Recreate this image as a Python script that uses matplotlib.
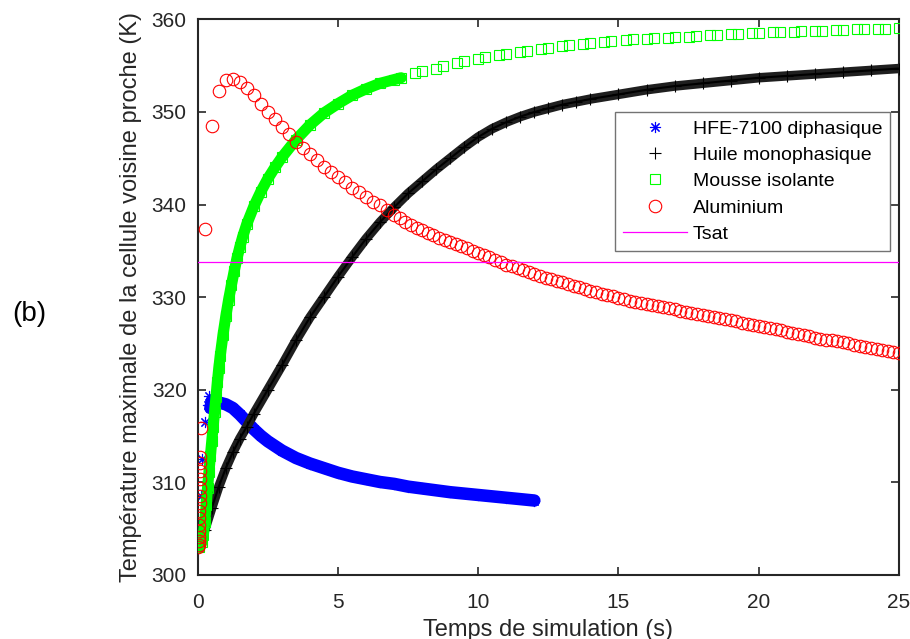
import numpy as np
import matplotlib
matplotlib.use('Agg')
import matplotlib.pyplot as plt
from matplotlib.lines import Line2D

plt.rcParams['font.family'] = ['Liberation Sans', 'DejaVu Sans']

# HFE-7100 diphasique (blue)
hfe_t = [0.0, 0.05, 0.1, 0.15, 0.25, 0.35, 0.4, 0.45, 0.5, 0.6, 0.75, 1.0, 1.25, 1.5,
         1.75, 2.0, 2.25, 2.5, 2.75, 3.0, 3.5, 4.0, 4.5, 5.0, 5.5, 6.0, 6.5, 7.0,
         7.5, 8.0, 9.0, 10.0, 11.0, 12.0]
hfe_T = [303.0, 305.5, 308.5, 312.5, 316.5, 318.3, 319.3, 318.0, 318.8, 318.6, 318.6,
         318.4, 318.0, 317.3, 316.5, 315.7, 315.0, 314.4, 313.9, 313.4, 312.6, 312.0,
         311.5, 311.0, 310.6, 310.3, 310.0, 309.8, 309.5, 309.3, 308.9, 308.6, 308.3, 308.0]

# Huile monophasique (black)
huile_t = [0.0, 0.25, 0.5, 0.75, 1.0, 1.25, 1.5, 1.75, 2.0, 2.5, 3.0, 3.5, 4.0, 4.5,
           5.0, 5.5, 6.0, 6.5, 7.0, 7.5, 8.0, 8.5, 9.0, 9.5, 10.0, 10.5, 11.0, 11.5,
           12.0, 12.5, 13.0, 13.5, 14.0, 15.0, 16.0, 17.0, 18.0, 19.0, 20.0, 21.0,
           22.0, 23.0, 24.0, 25.0]
huile_T = [303.0, 304.8, 307.2, 309.5, 311.5, 313.2, 314.7, 316.0, 317.4, 320.0, 322.6,
           325.3, 327.8, 330.0, 332.2, 334.3, 336.3, 338.1, 339.7, 341.2, 342.5, 343.8,
           345.0, 346.2, 347.3, 348.2, 348.9, 349.5, 350.0, 350.4, 350.8, 351.1, 351.4,
           351.9, 352.4, 352.8, 353.1, 353.4, 353.7, 353.9, 354.1, 354.3, 354.5, 354.7]

# Mousse isolante (green), dense part then sparse part
mousse_t = [0.05, 0.15, 0.2, 0.25, 0.3, 0.35, 0.4, 0.45, 0.5, 0.55, 0.6, 0.65, 0.7, 0.75,
            0.8, 0.9, 1.0, 1.1, 1.2, 1.3, 1.4, 1.5, 1.6, 1.75, 2.0, 2.25, 2.5, 2.75, 3.0,
            3.5, 4.0, 4.5, 5.0, 5.5, 6.0, 6.5, 7.0, 7.25]
mousse_T = [303.0, 303.5, 304.3, 305.7, 307.5, 309.4, 311.1, 312.8, 314.4, 316.0, 317.6,
            319.2, 320.8, 322.3, 323.6, 325.9, 327.9, 329.7, 331.3, 332.8, 334.2, 335.4,
            336.5, 337.9, 339.8, 341.4, 342.8, 344.0, 345.1, 347.0, 348.6, 349.9, 350.9,
            351.8, 352.5, 353.1, 353.5, 353.7]
mousse_t2 = [7.75, 8.0, 8.5, 8.75, 9.25, 9.5, 10.0, 10.25, 10.75, 11.0, 11.5, 11.75,
             12.25, 12.5, 13.0, 13.25, 13.75, 14.0, 14.5, 14.75, 15.25, 15.5, 16.0, 16.25,
             16.75, 17.0, 17.5, 17.75, 18.25, 18.5, 19.0, 19.25, 19.75, 20.0, 20.5, 20.75,
             21.25, 21.5, 22.0, 22.25, 22.75, 23.0, 23.5, 23.75, 24.25, 24.5, 25.0]
mousse_T2 = [354.2, 354.4, 354.7, 355.0, 355.3, 355.5, 355.7, 355.9, 356.2, 356.3, 356.5,
             356.6, 356.8, 356.9, 357.1, 357.2, 357.4, 357.45, 357.6, 357.7, 357.8, 357.85,
             357.9, 358.0, 358.05, 358.1, 358.15, 358.2, 358.3, 358.3, 358.4, 358.45, 358.5,
             358.55, 358.6, 358.65, 358.7, 358.75, 358.8, 358.8, 358.85, 358.9, 358.95,
             358.95, 359.0, 359.0, 359.05]

# Aluminium (red)
alu_t = [0.0, 0.03, 0.035, 0.04, 0.045, 0.05, 0.055, 0.06, 0.065, 0.07, 0.075, 0.08,
         0.085, 0.09, 0.095, 0.11, 0.25, 0.5, 0.75, 1.0, 1.25, 1.5, 1.75, 2.0, 2.25, 2.5,
         2.75, 3.0, 3.25, 3.5, 3.75, 4.0, 4.25, 4.5, 4.75, 5.0, 5.25, 5.5, 5.75, 6.0,
         6.25, 6.5, 6.75, 7.0]
alu_T = [303.0, 303.2, 303.6, 304.1, 304.7, 305.4, 306.1, 306.9, 307.7, 308.5, 309.4,
         310.3, 311.2, 312.1, 312.7, 315.8, 337.3, 348.5, 352.3, 353.5, 353.6, 353.2,
         352.6, 351.8, 350.9, 350.0, 349.2, 348.4, 347.6, 346.8, 346.1, 345.5, 344.8,
         344.1, 343.5, 343.0, 342.4, 341.8, 341.3, 340.8, 340.3, 339.9, 339.4, 338.9]
# after 7 s the output step is 0.2 s
alu_T2 = [338.5, 338.1, 337.8, 337.5, 337.2, 336.9, 336.7, 336.4, 336.2, 335.9, 335.7,
          335.5, 335.3, 335.0, 334.8, 334.5, 334.3, 334.0, 333.8, 333.5, 333.3, 333.1,
          332.9, 332.7, 332.5, 332.3, 332.1, 331.9, 331.7, 331.6, 331.4, 331.2, 331.1,
          330.9, 330.7, 330.5, 330.3, 330.2, 330.1, 329.9, 329.8, 329.6, 329.5, 329.4,
          329.2, 329.1, 329.0, 328.9, 328.8, 328.7, 328.5, 328.4, 328.3, 328.2, 328.1,
          328.0, 327.8, 327.7, 327.6, 327.5, 327.4, 327.2, 327.1, 327.0, 326.9, 326.8,
          326.6, 326.5, 326.4, 326.2, 326.1, 326.0, 325.9, 325.8, 325.6, 325.5, 325.4,
          325.3, 325.2, 325.1, 325.0, 324.8, 324.7, 324.6, 324.5, 324.4, 324.3, 324.2,
          324.1, 324.0]
alu_t2 = 7.2 + 0.2 * np.arange(len(alu_T2))

tsat = 333.8

labels = ['HFE-7100 diphasique', 'Huile monophasique', 'Mousse isolante', 'Aluminium', 'Tsat']

dark = '#262626'
blue = '#0000ff'
green = '#00ff00'
red = '#ff0000'
magenta = '#ff00ff'

fig = plt.figure(figsize=(9.1, 6.39), dpi=100)
ax = fig.add_axes([0.2173, 0.1009, 0.7706, 0.8686])

# blue: band + asterisks
ht = np.array(hfe_t)
hT = np.array(hfe_T)
m = ht >= 0.45
ax.plot(ht[m], hT[m], '-', color=blue, lw=9.0, solid_capstyle='round', zorder=2)
ax.plot(ht, hT, ls='none', marker=(8, 2, 0), ms=8, mew=0.8, color=blue, zorder=2)

# black
ax.plot(huile_t, huile_T, '-', color='0.12', lw=6.8, solid_capstyle='round', zorder=3)
ax.plot(huile_t, huile_T, '-', color='k', lw=1.5, zorder=3)
ax.plot(huile_t, huile_T, ls='none', marker='+', ms=9, mew=0.8, color='k', zorder=3)

# green
ax.plot(mousse_t, mousse_T, '-', color=green, lw=8.0, solid_capstyle='round', zorder=4)
ax.plot(mousse_t + mousse_t2, mousse_T + mousse_T2, ls='none', marker='s', ms=6.5,
        mew=0.8, mfc='none', mec=green, zorder=4)

# red
ax.plot(alu_t, alu_T, ls='none', marker='o', ms=9, mew=0.8, mfc='none', mec=red, zorder=5)
ax.plot(alu_t2, alu_T2, ls='none', marker='o', ms=9, mew=0.8, mfc='none', mec=red, zorder=5)

ax.axhline(tsat, color=magenta, lw=0.9, zorder=6)

ax.set_xlim(0, 25)
ax.set_ylim(300, 360)
ax.set_xticks([0, 5, 10, 15, 20, 25])
ax.set_yticks([300, 310, 320, 330, 340, 350, 360])
ax.tick_params(direction='in', length=6, width=1.2, colors=dark, labelsize=15,
               top=True, right=True)
ax.tick_params(axis='x', pad=13)
ax.tick_params(axis='y', pad=8)
for s in ax.spines.values():
    s.set_color(dark)
    s.set_linewidth(1.5)

ax.set_xlabel('Temps de simulation (s)', fontsize=17, color=dark, labelpad=5)
ax.set_ylabel('Température maximale de la cellule voisine proche (K)', fontsize=17,
              color=dark, labelpad=7)
fig.text(0.032, 0.508, '(b)', fontsize=20, ha='center', va='center', color='k')

handles = [
    Line2D([], [], ls='none', marker=(8, 2, 0), ms=8, mew=0.8, color=blue),
    Line2D([], [], ls='none', marker='+', ms=9, mew=0.8, color='k'),
    Line2D([], [], ls='none', marker='s', ms=6.5, mew=0.8, mfc='none', mec=green),
    Line2D([], [], ls='none', marker='o', ms=9, mew=0.8, mfc='none', mec=red),
    Line2D([], [], color=magenta, lw=0.9),
]
leg = ax.legend(handles, labels, loc='upper left', bbox_to_anchor=(0.595, 0.833),
                borderaxespad=0, fontsize=14, handlelength=3.3, handletextpad=0.3,
                labelspacing=0.45, borderpad=0.4, fancybox=False, framealpha=1)
leg.get_frame().set_edgecolor('0.45')
leg.get_frame().set_linewidth(1.0)

fig.savefig('out.png', dpi=100)
